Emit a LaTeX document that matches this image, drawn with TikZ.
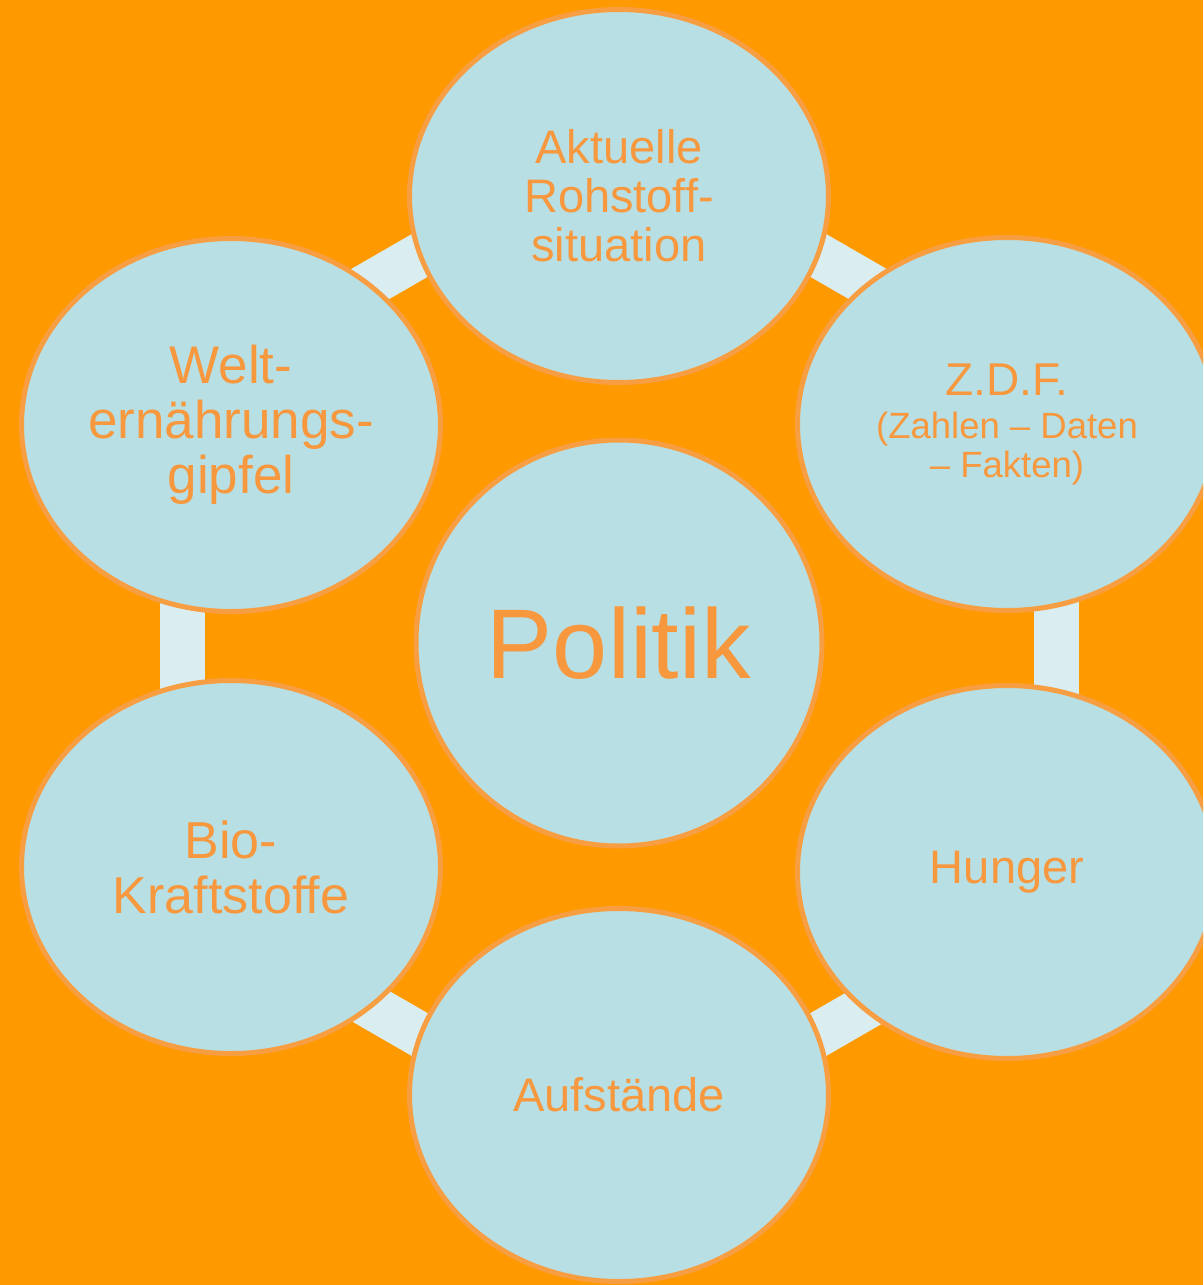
\documentclass[tikz,border=0pt]{standalone}
\usepackage{fontspec}
\setmainfont{Liberation Sans}
\usetikzlibrary{shapes.geometric,calc}
\definecolor{bgc}{RGB}{255,153,0}
\definecolor{fillc}{RGB}{184,223,227}
\definecolor{edgec}{RGB}{248,158,66}
\definecolor{txtc}{RGB}{247,152,62}
\definecolor{barc}{RGB}{218,238,242}
\tikzset{
  outerbub/.style={ellipse, draw=edgec, fill=fillc, line width=5pt, inner sep=0pt,
    minimum width=419pt, minimum height=373pt, text=txtc, align=center},
  centerbub/.style={circle, draw=edgec, fill=fillc, line width=5pt, inner sep=0pt,
    minimum size=406pt, text=txtc, align=center},
  ringbar/.style={draw=barc, line width=45pt}
}
\begin{document}
\begin{tikzpicture}[x=1pt,y=-1pt]
\useasboundingbox (0,0) rectangle (1203,1285);
\clip (0,0) rectangle (1203,1285);
\fill[bgc] (0,0) rectangle (1203,1285);
\coordinate (mid) at (619,645);
\foreach \a [count=\i] in {0,60,120,180,240,300}{
  \coordinate (bara\i) at ($(mid)+(\a:437)+(\a+90:85)$);
  \coordinate (barb\i) at ($(mid)+(\a:437)+(\a-90:85)$);
  \draw[ringbar] (bara\i) -- (barb\i);
}
\node[centerbub, font=\fontsize{99}{100}\selectfont, yshift=2pt] (politik) at (mid) {Politik};
\node[outerbub, font=\fontsize{47}{49}\selectfont, yshift=1pt] (top) at (619,197) {Aktuelle\\Rohstoff-\\situation};
\node[outerbub, font=\fontsize{36.5}{39}\selectfont, yshift=-2pt] (zdf) at (1007,422) {{\fontsize{46}{46}\selectfont Z.D.F.}\\[4pt](Zahlen – Daten\\– Fakten)};
\node[outerbub, font=\fontsize{47}{49}\selectfont, yshift=-3pt] (hunger) at (1007,869) {Hunger};
\node[outerbub, font=\fontsize{47}{49}\selectfont] (aufst) at (619,1095) {Aufstände};
\node[outerbub, font=\fontsize{52}{55}\selectfont, yshift=2pt] (bio) at (231,869) {Bio-\\Kraftstoffe};
\node[outerbub, font=\fontsize{53}{55}\selectfont, yshift=-3pt] (welt) at (231,422) {Welt-\\ernährungs-\\gipfel};
\end{tikzpicture}
\end{document}
